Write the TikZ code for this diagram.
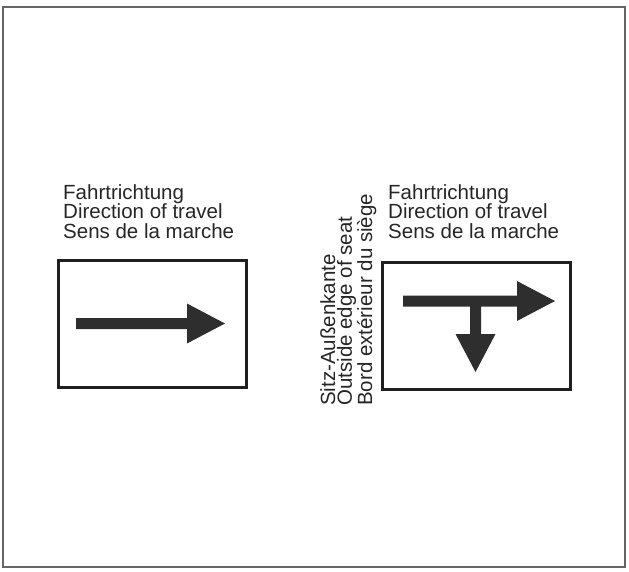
\documentclass[tikz,border=0pt]{standalone}
\usepackage{fontspec}
\setmainfont{Liberation Sans}

\begin{document}
\begin{tikzpicture}[x=1pt,y=-1pt]
% définition des paramètres
\tikzstyle cadresiege=[color=black!60,line width=1.6pt]
\tikzstyle boitesiege=[draw=black!88,line width=2.8pt,inner sep=0pt,minimum width=188pt,minimum height=127pt]
\tikzstyle flechesiege=[fill=black!82,draw=none]
\tikzstyle textesiege=[inner sep=0pt,align=left,text=black!85,font=\fontsize{20.5}{19.7}\selectfont]
\tikzstyle textebordsiege=[inner sep=0pt,align=left,text=black!85,font=\fontsize{20.5}{16.8}\selectfont]
\newcommand{\epfleche}{5.5}  % demi-épaisseur du trait
\newcommand{\lgtete}{38}     % longueur de la pointe
\newcommand{\httete}{20}     % demi-hauteur de la pointe
\useasboundingbox (0,0) rectangle (629,571);
% le cadre
\draw [cadresiege] (3,7) rectangle (625,567);
% les textes
\node [textesiege,anchor=north west] (texteg) at (63,184) {Fahrtrichtung\\Direction of travel\\Sens de la marche};
\node [textesiege,anchor=north west] (texted) at (388,184) {Fahrtrichtung\\Direction of travel\\Sens de la marche};
\node [textebordsiege,anchor=north west,rotate=90] (textebord) at (320,406) {Sitz-Außenkante\\Outside edge of seat\\Bord extérieur du siège};
% les boîtes
\node [boitesiege] (boiteg) at (152.5,324) {};
\node [boitesiege] (boited) at (476.5,326) {};
% les flèches
\filldraw [shift={(76,323.5)},flechesiege] (0,-\epfleche)--(111,-\epfleche)--(111,-\httete)--(111+\lgtete,0)--(111,\httete)--(111,\epfleche)--(0,\epfleche)--cycle;
\filldraw [shift={(403,301)},flechesiege] (0,-\epfleche)--(114,-\epfleche)--(114,-\httete)--(114+\lgtete,0)--(114,\httete)--(114,\epfleche)--(0,\epfleche)--cycle;
\filldraw [shift={(475.5,306)},flechesiege] (-\epfleche,0)--(\epfleche,0)--(\epfleche,28)--(\httete,28)--(0,28+\lgtete)--(-\httete,28)--(-\epfleche,28)--cycle;
\end{tikzpicture}
\end{document}
